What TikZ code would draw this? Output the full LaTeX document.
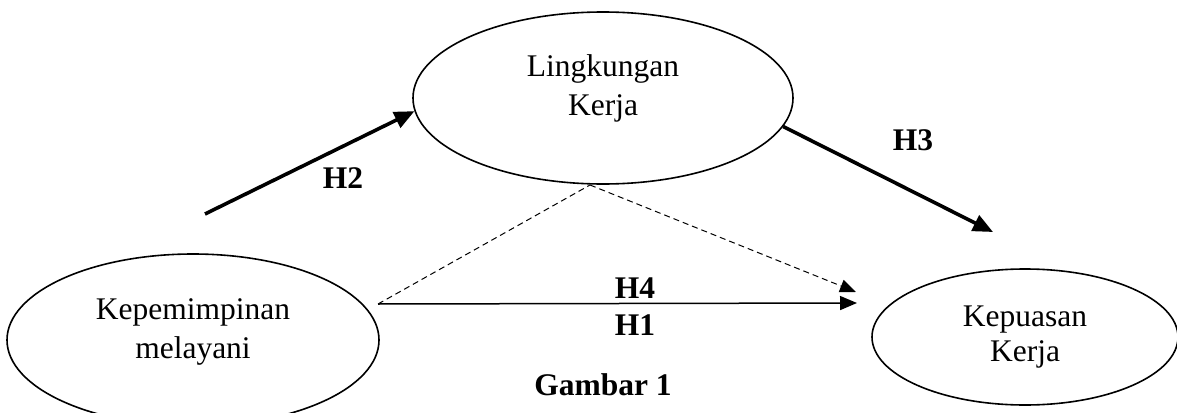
\documentclass[tikz,border=0pt]{standalone}
\usepackage{fontspec}
\setmainfont{Liberation Serif}
\usetikzlibrary{shapes.geometric,arrows.meta}
\begin{document}
\begin{tikzpicture}[x=1pt,y=-1pt,
  var/.style={draw,ellipse,line width=1.6pt,inner sep=0pt,align=center,
    font=\fontsize{31.5}{39}\selectfont},
  hyp/.style={font=\fontsize{31.5}{38}\selectfont\bfseries},
  thick arrow/.style={line width=3.6pt,-{Triangle[length=20pt,width=17pt]}},
  thin arrow/.style={line width=1.5pt,-{Triangle[length=17pt,width=14pt]}},
  dash arrow/.style={line width=1pt,dash pattern=on 6pt off 4pt,-{Triangle[length=16pt,width=13pt]}}]
\useasboundingbox (0,0) rectangle (1177,412);
\node[var,minimum width=380pt,minimum height=172pt,text depth=26pt] (lk) at (603,98) {Lingkungan\\Kerja};
\node[var,minimum width=372pt,minimum height=172pt,text depth=22pt] (kp) at (193,340) {Kepemimpinan\\melayani};
\node[var,minimum width=306pt,minimum height=136pt,font=\fontsize{31.5}{35}\selectfont] (ks) at (1025,337) {Kepuasan\\Kerja};
\coordinate (h2s) at (205,214);
\coordinate (h3e) at (993,232);
\coordinate (h1s) at (378,304);
\coordinate (h1e) at (857,303);
\coordinate (h4e) at (856,292);
\coordinate (apex) at (590,185);
\draw[thick arrow] (h2s) -- (lk.184);
\draw[thick arrow] (lk.-9) -- (h3e);
\draw[line width=1pt,dash pattern=on 6pt off 4pt] (h1s) -- (apex);
\draw[dash arrow] (apex) -- (h4e);
\draw[thin arrow] (h1s) -- (h1e);
\node[hyp] (t2) at (343,178) {H2};
\node[hyp] (t3) at (913,140) {H3};
\node[hyp] (t4) at (635,288) {H4};
\node[hyp] (t1) at (635,325) {H1};
\node[hyp] (g) at (603,385) {Gambar 1};
\end{tikzpicture}
\end{document}
